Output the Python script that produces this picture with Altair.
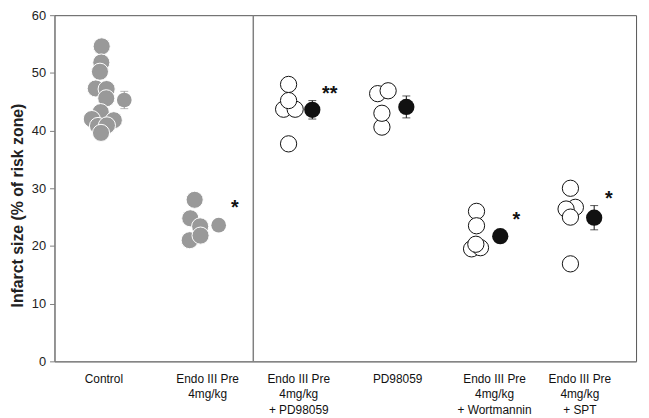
import altair as alt
import pandas as pd

# ---- data (x in group units, y in % of risk zone) ----
ctrl_x = [0.487, 0.483, 0.469, 0.426, 0.538, 0.534, 0.477, 0.385, 0.612, 0.449, 0.541, 0.480]
ctrl_y = [54.6, 51.8, 50.2, 47.3, 47.2, 45.6, 43.2, 42.0, 41.8, 40.8, 40.9, 39.6]
endo_x = [1.446, 1.401, 1.503, 1.395, 1.507]
endo_y = [28.0, 24.8, 23.4, 21.0, 21.8]

pd_combo_x = [2.415, 2.364, 2.483, 2.415, 2.415]
pd_combo_y = [48.0, 43.7, 43.7, 45.2, 37.7]
pd_x = [3.334, 3.442, 3.378, 3.378]
pd_y = [46.4, 46.9, 40.6, 43.0]
wort_x = [4.354, 4.354, 4.303, 4.395, 4.347]
wort_y = [26.0, 23.5, 19.5, 19.7, 20.3]
spt_x = [5.323, 5.374, 5.278, 5.323, 5.323]
spt_y = [30.0, 26.7, 26.4, 25.0, 16.9]

mean_x = [0.72, 1.694, 2.660, 3.630, 4.599, 5.568]
mean_y = [45.3, 23.6, 43.6, 44.1, 21.7, 24.9]
mean_err = [1.5, 0.9, 1.6, 1.9, 0.8, 2.1]
mean_group = ["gray", "gray", "black", "black", "black", "black"]

star_x = [1.86, 2.84, 4.765, 5.72]
star_y = [26.6, 46.4, 24.5, 28.2]
star_text = ["*", "**", "*", "*"]

label_x = [0.51, 1.58, 2.52, 3.54, 4.54, 5.42]
label_text = ["Control", "Endo III Pre\n4mg/kg", "Endo III Pre\n4mg/kg\n+ PD98059",
              "PD98059", "Endo III Pre\n4mg/kg\n+ Wortmannin", "Endo III Pre\n4mg/kg\n+ SPT"]

divider_x = [2.051]

W, H = 588, 350
FONT = "Liberation Sans"
GRAY = "#999999"
BLACK = "#111111"

gray_df = pd.DataFrame({"x": ctrl_x + endo_x, "y": ctrl_y + endo_y})
open_df = pd.DataFrame({"x": pd_combo_x + pd_x + wort_x + spt_x,
                        "y": pd_combo_y + pd_y + wort_y + spt_y})
mean_df = pd.DataFrame({"x": mean_x, "y": mean_y, "g": mean_group,
                        "lo": [m - e for m, e in zip(mean_y, mean_err)],
                        "hi": [m + e for m, e in zip(mean_y, mean_err)]})
star_df = pd.DataFrame({"x": star_x, "y": star_y, "t": star_text})
label_df = pd.DataFrame({"x": label_x, "t": label_text})
div_df = pd.DataFrame({"x": divider_x, "y0": [0], "y1": [60]})

xs = alt.Scale(domain=[0, 6], nice=False, zero=False)
ys = alt.Scale(domain=[0, 60], nice=False, zero=False)

yaxis = alt.Axis(values=[0, 10, 20, 30, 40, 50, 60], grid=False, tickSize=5,
                 tickColor="#808080", domainColor="#808080", labelFont=FONT,
                 labelFontSize=13, labelColor="#222222", labelPadding=4,
                 title="Infarct size (% of risk zone)", titleFont=FONT,
                 titleFontSize=16, titleFontWeight="bold", titleColor="#222222",
                 titleX=-37, titleY=192, titleAlign="center", titleBaseline="middle",
                 titleAngle=270)
xaxis = alt.Axis(labels=False, ticks=False, grid=False, title=None,
                 domainColor="#808080")

X = alt.X("x:Q", scale=xs, axis=xaxis)
Y = alt.Y("y:Q", scale=ys, axis=yaxis)
C = alt.Color("g:N", scale=alt.Scale(domain=["gray", "black"], range=[GRAY, BLACK]),
              legend=None)

divider = alt.Chart(div_df).mark_rule(color="#808080", strokeWidth=1.5).encode(
    x=alt.X("x:Q", scale=xs), y=alt.Y("y0:Q", scale=ys), y2="y1:Q")

gray_pts = alt.Chart(gray_df).mark_circle(size=300, opacity=1, color=GRAY,
                                          stroke="white", strokeWidth=1).encode(x=X, y=Y)
open_pts = alt.Chart(open_df).mark_point(shape="circle", size=270, filled=True,
                                         fill="white", stroke=BLACK,
                                         strokeWidth=1, opacity=1).encode(x=X, y=Y)

base_m = alt.Chart(mean_df)
err_rule = base_m.mark_rule(strokeWidth=1).encode(
    x=X, y=alt.Y("lo:Q", scale=ys), y2="hi:Q", color=C)
cap_lo = base_m.mark_tick(orient="horizontal", size=8, thickness=1).encode(
    x=X, y=alt.Y("lo:Q", scale=ys), color=C)
cap_hi = base_m.mark_tick(orient="horizontal", size=8, thickness=1).encode(
    x=X, y=alt.Y("hi:Q", scale=ys), color=C)
mean_gray = base_m.transform_filter(alt.datum.g == "gray").mark_circle(
    size=220, opacity=1).encode(x=X, y=Y, color=C)
mean_black = base_m.transform_filter(alt.datum.g == "black").mark_circle(
    size=270, opacity=1).encode(x=X, y=Y, color=C)

stars = alt.Chart(star_df).mark_text(font=FONT, fontSize=20, fontWeight="bold",
                                     color=BLACK, align="center",
                                     baseline="middle").encode(x=X, y=Y, text="t:N")

labels = alt.Chart(label_df).mark_text(font=FONT, fontSize=12, color=BLACK,
                                       align="center", baseline="top", lineBreak="\n",
                                       lineHeight=15.5).encode(
    x=X, y=alt.value(H + 13), text="t:N")

chart = alt.layer(divider, gray_pts, open_pts, err_rule, cap_lo, cap_hi,
                  mean_gray, mean_black, stars, labels).properties(
    width=W, height=H,
    autosize=alt.AutoSizeParams(type="none"),
    padding={"left": 47, "top": 5, "right": 5, "bottom": 55},
).configure_view(stroke="#555555", strokeWidth=1)

chart.save("out.html", embed_options={"renderer": "svg", "actions": False})
